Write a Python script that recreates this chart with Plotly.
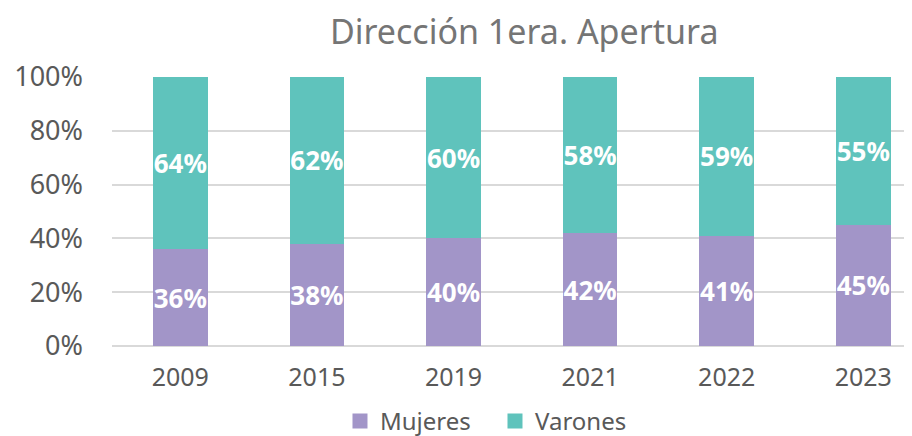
import plotly.graph_objects as go

years = ["2009", "2015", "2019", "2021", "2022", "2023"]
mujeres = [36, 38, 40, 42, 41, 45]
varones = [64, 62, 60, 58, 59, 55]
series_names = ["Mujeres", "Varones"]
series_colors = ["#A295C8", "#5FC3BC"]

FONT = "Noto Sans"
lbl_font = dict(color="white", size=26, family=FONT, weight="bold")
fig = go.Figure()
for name, vals, col in zip(series_names, [mujeres, varones], series_colors):
    fig.add_trace(go.Bar(
        x=years, y=vals, name=name, marker_color=col,
        marker_line_width=0, width=0.4, showlegend=False,
        text=[f"{v}%" for v in vals], textposition="inside", insidetextanchor="middle",
        textangle=0, constraintext="none", textfont=lbl_font,
    ))
# legend entries with larger square swatches
for name, col in zip(series_names, series_colors):
    fig.add_trace(go.Scatter(
        x=[None], y=[None], mode="markers", name=name,
        marker=dict(symbol="square", size=15, color=col),
    ))
fig.update_layout(
    barmode="stack",
    width=912, height=436,
    margin=dict(l=104, r=0, t=69, b=98, autoexpand=False),
    paper_bgcolor="white", plot_bgcolor="white",
    title=dict(text="Dirección 1era. Apertura", x=0.566, xanchor="center", y=0.945, yanchor="middle",
               font=dict(family=FONT, size=34, color="#757575")),
    font=dict(family=FONT, color="#595959"),
    xaxis=dict(type="category", range=[-0.5, 5.415], showgrid=False, showline=False,
               tickfont=dict(size=25, color="#595959"), ticks="", automargin=False,
               ticklabelstandoff=14),
    yaxis=dict(range=[0, 100], dtick=20, ticksuffix="%", showgrid=True, gridcolor="#D9D9D9",
               gridwidth=1.5, zeroline=True, zerolinecolor="#D9D9D9", zerolinewidth=1.5,
               tickfont=dict(size=27, color="#595959"), ticklabelstandoff=28, automargin=False),
    legend=dict(orientation="h", x=0.474, xanchor="center", y=-0.28, yanchor="middle",
                traceorder="normal", font=dict(size=24, color="#595959"), itemsizing="trace",
                itemwidth=30, entrywidth=110, entrywidthmode="pixels"),
    bargap=0.6,
)
fig.write_html("out.html")
